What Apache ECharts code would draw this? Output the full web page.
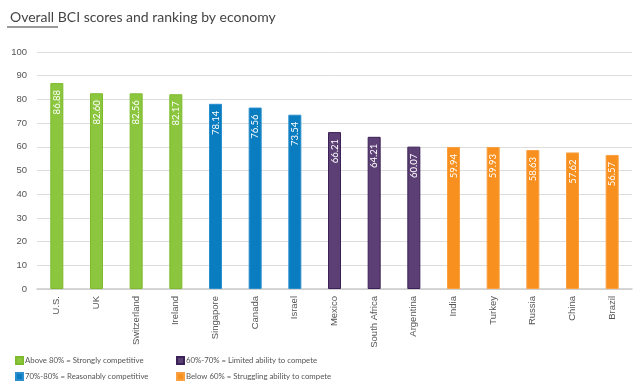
<!DOCTYPE html>
<html><head><meta charset="utf-8">
<script src="https://cdn.jsdelivr.net/npm/echarts@6/dist/echarts.min.js"></script>
<style>html,body{margin:0;padding:0;background:#fff}#c{width:640px;height:387px}</style>
</head><body><div id="c"></div>
<script>
const categories = ['U.S.','UK','Switzerland','Ireland','Singapore','Canada','Israel','Mexico','South Africa','Argentina','India','Turkey','Russia','China','Brazil'];
const scores = [86.88,82.60,82.56,82.17,78.14,76.56,73.54,66.21,64.21,60.07,59.94,59.93,58.63,57.62,56.57];
const groupOf = [0,0,0,0,1,1,1,2,2,2,3,3,3,3,3];
const groupNames = ['Above 80% = Strongly competitive','70%-80% = Reasonably competitive','60%-70% = Limited ability to compete','Below 60% = Struggling ability to compete'];
const groupColors = ['#8cc63f','#0a7dc0','#5c3f74','#f7901e'];
const groupBorders = ['#7dbb2c','#2a8fcc','#3b2256','#f9a040'];
const yTicks = {min:0, max:100, interval:10};

const series = groupNames.map((name,g)=>({
  name, type:'bar', barWidth:13, barGap:'-100%',
  data: scores.map((v,i)=> groupOf[i]===g ? v : null),
  itemStyle:{color:groupColors[g], borderColor:groupBorders[g], borderWidth:1},
  label:{show:true, position:'insideTop', rotate:90, align:'right', verticalAlign:'middle', distance:7,
    color:'#fff', fontSize:9.5, fontFamily:'Lato', formatter:p=>p.value.toFixed(2)}
}));

const legendCommon = {orient:'vertical', top:356, padding:0, height:32, itemWidth:7, itemHeight:7, itemGap:7,
  icon:'rect', textStyle:{fontSize:7.8, color:'#555', fontFamily:'Lato', padding:[0,0,0,-3]}};

const chart = echarts.init(document.getElementById('c'));
chart.setOption({
  animation:false,
  title:{text:'Overall BCI scores and ranking by economy', left:5, top:5,
    textStyle:{fontSize:14, fontWeight:'normal', color:'#444', fontFamily:'Lato'}},
  graphic:[{type:'rect', shape:{x:7,y:26,width:51,height:2}, style:{fill:'#9a9a9a'}}],
  legend:[
    Object.assign({}, legendCommon, {data:[groupNames[0],groupNames[1]], left:15}),
    Object.assign({}, legendCommon, {data:[groupNames[2],groupNames[3]], left:176})
  ],
  grid:{left:37, right:8, top:52, bottom:98},
  xAxis:{type:'category', data:categories,
    axisLine:{lineStyle:{color:'#ccc', width:1.5}}, axisTick:{show:false},
    axisLabel:{rotate:90, fontSize:9.5, color:'#555', margin:7, fontFamily:'Liberation Sans', interval:0}},
  yAxis:{type:'value', min:yTicks.min, max:yTicks.max, interval:yTicks.interval,
    axisLine:{show:false}, axisTick:{show:false},
    axisLabel:{fontSize:9.5, color:'#555', margin:10, fontFamily:'Liberation Sans'},
    splitLine:{lineStyle:{color:'#ddd', width:1}}},
  series
});
</script></body></html>
